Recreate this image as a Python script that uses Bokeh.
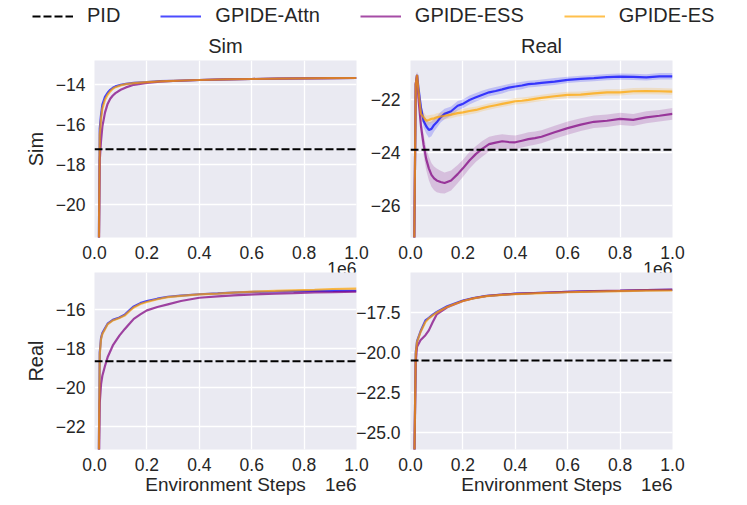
from bokeh.plotting import figure
from bokeh.models import (Range1d, Span, Legend, LegendItem, FixedTicker, LinearAxis,
                          CustomJSTickFormatter)
from bokeh.layouts import column, row
from bokeh.embed import file_html
from bokeh.resources import INLINE

FONT = "Liberation Sans"
TXT = "#262626"
BG = "#EAEAF2"

series_names = ["GPIDE-Attn", "GPIDE-ESS", "GPIDE-ES"]
series_colors = ["blue", "purple", "orange"]
pid_name = "PID"
col_titles = ["Sim", "Real"]
row_labels = ["Sim", "Real"]
x_label = "Environment Steps"
x_offset_text = "1e6"
x_ticks = [0, 200000, 400000, 600000, 800000, 1000000]

# ---------------- top-left: train Sim / eval Sim ----------------
tl_steps = [12000, 20000, 25000, 30000, 40000, 50000, 60000, 70000, 80000, 100000, 120000,
            150000, 200000, 250000, 300000, 400000, 500000, 600000, 700000, 800000, 900000, 1000000]
tl_attn = [-30, -16.2, -15.5, -15.0, -14.6, -14.4, -14.25, -14.15, -14.08, -14.0, -13.95,
           -13.9, -13.86, -13.82, -13.8, -13.76, -13.73, -13.71, -13.69, -13.68, -13.67, -13.66]
tl_ess = [-30, -17.8, -16.8, -16.1, -15.4, -14.96, -14.7, -14.54, -14.42, -14.25, -14.13,
          -14.0, -13.9, -13.84, -13.81, -13.76, -13.73, -13.71, -13.69, -13.68, -13.67, -13.66]
tl_es = [-30, -16.5, -15.7, -15.2, -14.75, -14.5, -14.33, -14.2, -14.12, -14.03, -13.97,
         -13.92, -13.87, -13.83, -13.8, -13.76, -13.73, -13.71, -13.69, -13.68, -13.67, -13.66]
tl_pid = -17.24
tl_yrange = (-21.67, -12.78)
tl_yticks = [-20, -18, -16, -14]

# ---------------- top-right: train Sim / eval Real ----------------
tr_steps = [12000, 20000, 25000, 30000, 40000, 50000, 60000, 70000, 80000, 90000, 100000,
            115000, 130000, 155000, 180000, 200000, 225000, 250000, 275000, 300000, 325000,
            350000, 375000, 400000, 425000, 450000, 475000, 500000, 550000, 600000, 650000,
            700000, 750000, 800000, 850000, 900000, 950000, 1000000]
tr_attn = [-30, -21.4, -21.05, -21.5, -22.3, -22.8, -23.0, -23.14, -23.1, -22.95, -22.85,
           -22.66, -22.53, -22.43, -22.22, -22.15, -22.0, -21.9, -21.8, -21.71, -21.66,
           -21.6, -21.53, -21.49, -21.45, -21.4, -21.38, -21.35, -21.3, -21.24, -21.2,
           -21.17, -21.13, -21.11, -21.12, -21.14, -21.1, -21.1]
tr_ess = [-30, -21.4, -21.05, -21.9, -23.0, -23.7, -24.25, -24.6, -24.85, -24.98, -25.06,
          -25.12, -25.16, -25.06, -24.82, -24.6, -24.3, -24.05, -23.85, -23.68, -23.62,
          -23.57, -23.6, -23.61, -23.55, -23.49, -23.45, -23.4, -23.23, -23.07, -22.94,
          -22.83, -22.79, -22.72, -22.76, -22.66, -22.6, -22.53]
tr_es = [-30, -21.4, -21.05, -21.6, -22.53, -22.66, -22.79, -22.76, -22.72, -22.7, -22.66,
         -22.63, -22.6, -22.56, -22.5, -22.47, -22.42, -22.38, -22.31, -22.25, -22.2,
         -22.15, -22.1, -22.05, -22.03, -22.0, -21.96, -21.92, -21.86, -21.81, -21.8,
         -21.75, -21.71, -21.71, -21.67, -21.66, -21.67, -21.68]
tr_attn_sd = [0.1, 0.12, 0.12, 0.2, 0.25, 0.25, 0.28, 0.3, 0.28, 0.25, 0.22,
              0.2, 0.2, 0.18, 0.18, 0.17, 0.17, 0.16, 0.16, 0.15, 0.15,
              0.15, 0.14, 0.14, 0.14, 0.13, 0.13, 0.13, 0.13, 0.12, 0.12,
              0.12, 0.12, 0.12, 0.12, 0.12, 0.12, 0.12]
tr_ess_sd = [0.1, 0.12, 0.12, 0.25, 0.35, 0.4, 0.42, 0.45, 0.45, 0.45, 0.45,
             0.43, 0.4, 0.38, 0.35, 0.33, 0.32, 0.3, 0.3, 0.28, 0.28,
             0.27, 0.27, 0.26, 0.26, 0.26, 0.25, 0.25, 0.25, 0.25, 0.24,
             0.24, 0.24, 0.23, 0.23, 0.23, 0.22, 0.22]
tr_es_sd = [0.1, 0.12, 0.12, 0.25, 0.25, 0.22, 0.2, 0.18, 0.16, 0.15, 0.15,
            0.15, 0.14, 0.14, 0.13, 0.13, 0.13, 0.13, 0.12, 0.12, 0.12,
            0.12, 0.12, 0.12, 0.12, 0.12, 0.12, 0.12, 0.12, 0.12, 0.12,
            0.12, 0.12, 0.12, 0.12, 0.12, 0.12, 0.12]
tr_pid = -23.89
tr_yrange = (-27.23, -20.50)
tr_yticks = [-26, -24, -22]

# ---------------- bottom-left: train Real / eval Sim ----------------
bl_steps = [12000, 20000, 25000, 30000, 40000, 50000, 70000, 95000, 115000, 135000, 150000,
            175000, 200000, 240000, 280000, 330000, 400000, 470000, 530000, 610000, 690000,
            760000, 840000, 910000, 1000000]
bl_attn = [-30, -18.2, -17.45, -17.2, -16.95, -16.72, -16.52, -16.4, -16.26, -16.0, -15.83,
           -15.66, -15.55, -15.43, -15.33, -15.27, -15.2, -15.16, -15.12, -15.08, -15.06,
           -15.04, -15.03, -15.03, -15.02]
bl_ess = [-30, -20.8, -19.83, -19.4, -18.9, -18.45, -17.84, -17.33, -17.0, -16.7, -16.47,
          -16.24, -16.03, -15.86, -15.72, -15.55, -15.38, -15.31, -15.26, -15.21, -15.17,
          -15.14, -15.1, -15.09, -15.07]
bl_es = [-30, -18.3, -17.5, -17.25, -17.0, -16.75, -16.55, -16.42, -16.3, -16.05, -15.88,
         -15.7, -15.6, -15.46, -15.35, -15.28, -15.21, -15.17, -15.12, -15.07, -15.03,
         -15.0, -14.97, -14.93, -14.91]
bl_pid = -18.65
bl_yrange = (-23.2, -14.08)
bl_yticks = [-22, -20, -18, -16]

# ---------------- bottom-right: train Real / eval Real ----------------
br_steps = [12000, 20000, 25000, 38000, 57000, 70000, 85000, 100000, 140000, 166000, 200000,
            240000, 290000, 350000, 400000, 500000, 600000, 700000, 800000, 900000, 1000000]
br_attn = [-30, -20.0, -19.3, -18.7, -18.01, -17.85, -17.65, -17.48, -17.13, -16.97, -16.77,
           -16.62, -16.48, -16.41, -16.35, -16.29, -16.23, -16.19, -16.17, -16.13, -16.11]
br_ess = [-30, -20.6, -19.65, -19.24, -18.93, -18.63, -18.11, -17.64, -17.19, -17.02, -16.8,
          -16.63, -16.49, -16.41, -16.36, -16.29, -16.23, -16.19, -16.16, -16.12, -16.09]
br_es = [-30, -20.1, -19.35, -18.75, -18.11, -17.88, -17.7, -17.52, -17.17, -17.0, -16.8,
         -16.64, -16.5, -16.42, -16.37, -16.31, -16.26, -16.22, -16.19, -16.16, -16.15]
br_pid = -20.5
br_yrange = (-26.04, -15.03)
br_yticks = [-25, -22.5, -20, -17.5]

TICK_PX = "17.5px"
LABEL_PX = "20px"


def yfmt(dec):
    return CustomJSTickFormatter(code=(
        "const s = Math.abs(tick).toFixed(%d);"
        "return (tick < 0 ? '\\u2212' : '') + s;" % dec))


def style_axis(ax, size):
    ax.axis_line_color = None
    ax.major_tick_line_color = None
    ax.minor_tick_line_color = None
    ax.major_tick_out = 0
    ax.major_tick_in = 0
    ax.minor_tick_out = 0
    ax.minor_tick_in = 0
    ax.major_label_text_font = FONT
    ax.major_label_text_font_size = size
    ax.major_label_text_color = TXT
    ax.axis_label_text_font = FONT
    ax.axis_label_text_font_size = LABEL_PX
    ax.axis_label_text_font_style = "normal"
    ax.axis_label_text_color = TXT


def panel(steps, ys, sds, pid, yrange, yticks, ydec, title=None, ylabel=None, bottom=False,
          bl=94, br=30, bt=0, bb=50, margin=None, ystand=9):
    p = figure(frame_width=262, frame_height=177,
               x_range=Range1d(0, 1000000), y_range=Range1d(*yrange),
               output_backend="svg", toolbar_location=None,
               min_border_left=bl, min_border_right=br,
               min_border_top=bt, min_border_bottom=bb)
    if margin is not None:
        p.margin = margin
    p.background_fill_color = BG
    p.border_fill_color = None
    p.outline_line_color = None
    p.grid.grid_line_color = "white"
    p.grid.grid_line_width = 1.3
    style_axis(p.xaxis[0], TICK_PX)
    style_axis(p.yaxis[0], TICK_PX)
    p.xaxis.ticker = FixedTicker(ticks=x_ticks)
    p.xaxis.formatter = CustomJSTickFormatter(code="return (tick / 1e6).toFixed(1);")
    p.xaxis.major_label_standoff = 8
    p.yaxis.ticker = FixedTicker(ticks=yticks)
    p.yaxis.formatter = yfmt(ydec)
    p.yaxis.major_label_standoff = ystand
    if ylabel:
        p.yaxis.axis_label = ylabel
        p.yaxis.axis_label_standoff = 6
    if title:
        p.title.text = title
        p.title.align = "center"
        p.title.text_font = FONT
        p.title.text_font_size = LABEL_PX
        p.title.text_font_style = "normal"
        p.title.text_color = TXT
        p.title.standoff = 8
    # second row of x texts: axis label and the scale-offset text "1e6"
    if bottom:
        pos = {500000: x_label, 940000: x_offset_text}
        size = "19px"
    else:
        pos = {944000: x_offset_text}
        size = TICK_PX
    ax2 = LinearAxis(ticker=FixedTicker(ticks=list(pos.keys())),
                     major_label_overrides=pos)
    style_axis(ax2, size)
    ax2.major_label_standoff = 0
    p.add_layout(ax2, "below")

    for y, c, sd in zip(ys, series_colors, sds if sds else [None] * 3):
        if sd is not None:
            lo = [a - b for a, b in zip(y, sd)]
            hi = [a + b for a, b in zip(y, sd)]
            p.varea(x=steps, y1=lo, y2=hi, fill_color=c, fill_alpha=0.18)
    for y, c in zip(ys, series_colors):
        p.line(steps, y, line_color=c, line_alpha=0.72, line_width=2.2)
    p.add_layout(Span(location=pid, dimension="width", line_color="black",
                      line_dash="8 3", line_width=2))
    return p


tl = panel(tl_steps, [tl_attn, tl_ess, tl_es], None, tl_pid, tl_yrange, tl_yticks, 0,
           title=col_titles[0], ylabel=row_labels[0], bl=94, br=30, bt=32, bb=50)
tr = panel(tr_steps, [tr_attn, tr_ess, tr_es], [tr_attn_sd, tr_ess_sd, tr_es_sd], tr_pid,
           tr_yrange, tr_yticks, 0, title=col_titles[1], bl=60, br=60, bt=32, bb=50,
           margin=(0, 0, 0, -36), ystand=10)
bl = panel(bl_steps, [bl_attn, bl_ess, bl_es], None, bl_pid, bl_yrange, bl_yticks, 0,
           ylabel=row_labels[1], bottom=True, bl=94, br=30, bt=0, bb=52)
brp = panel(br_steps, [br_attn, br_ess, br_es], None, br_pid, br_yrange, br_yticks, 1,
            bottom=True, bl=60, br=60, bt=0, bb=52, margin=(0, 0, 0, -36), ystand=10)

# ---------------- legend strip (its renderers lie outside its own ranges) ----------------
leg = figure(width=747, height=28, x_range=Range1d(0, 1), y_range=Range1d(0, 1),
             output_backend="svg", toolbar_location=None, min_border=0,
             x_axis_type=None, y_axis_type=None)
leg.outline_line_color = None
leg.background_fill_color = None
leg.border_fill_color = None
r_pid = leg.line(tl_steps, [tl_pid] * len(tl_steps), line_color="black",
                 line_dash="8 3", line_width=2)
items = [LegendItem(label=pid_name, renderers=[r_pid])]
for name, c, y in zip(series_names, series_colors, [tl_attn, tl_ess, tl_es]):
    r = leg.line(tl_steps, y, line_color=c, line_alpha=0.7, line_width=2)
    items.append(LegendItem(label=name, renderers=[r]))
legend = Legend(items=items, orientation="horizontal", location=(32, 1),
                padding=0, margin=0, spacing=40, glyph_width=41, glyph_height=14,
                label_height=14, label_standoff=14, label_text_font=FONT,
                label_text_font_size=LABEL_PX, label_text_color=TXT,
                border_line_color=None, background_fill_alpha=0)
leg.add_layout(legend)

# the bottom row is pulled up so that its frames hide the lower part of the top "1e6"
top_row = row(tl, tr)
bottom_row = row(bl, brp, margin=(-15, 0, 0, 0))
layout = column(leg, top_row, bottom_row)
open("out.html", "w").write(file_html(layout, INLINE))
